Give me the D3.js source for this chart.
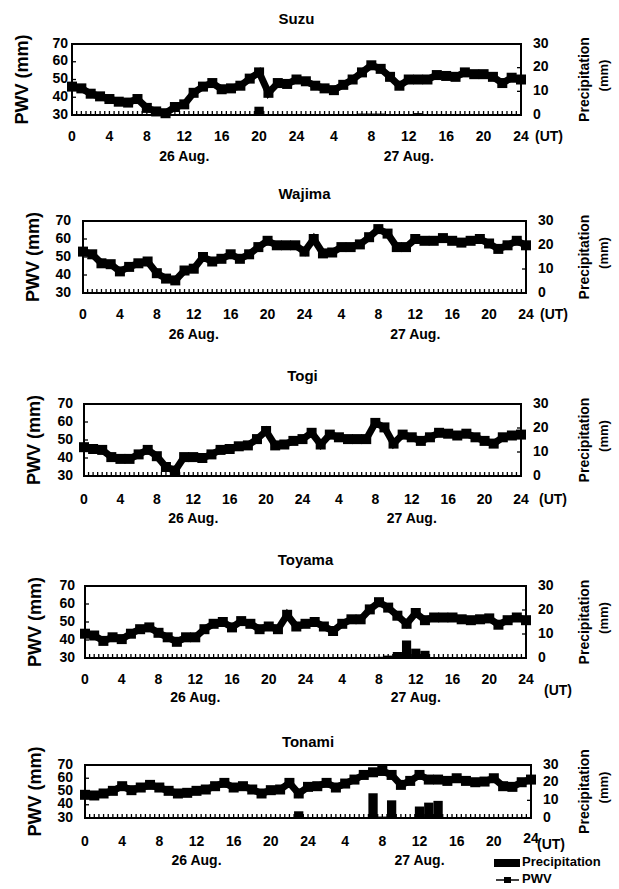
<!DOCTYPE html>
<meta charset="utf-8">
<head>
	<title>PWV and precipitation, 26-27 Aug.</title>
	<script type="text/javascript" src="https://d3js.org/d3.v7.min.js"></script>
	<style>
		body { margin: 0; background: #fff; }
		text {
			font-family: "Liberation Sans", Arial, sans-serif;
			font-weight: bold;
			fill: #000;
		}
		.frame { fill: none; stroke: #000; stroke-width: 2; }
		.tick { stroke: #000; stroke-width: 1.3; }
		.pwv-line { fill: none; stroke: #000; stroke-width: 7; stroke-linejoin: miter; }
		.pwv-mark { fill: #000; }
		.rain { fill: #000; }
	</style>
</head>
<body>
	<div id="chart"></div>
	<script>
		// hours from 00 UT 26 Aug. to 24 UT 27 Aug.
		var hours = [0, 1, 2, 3, 4, 5, 6, 7, 8, 9, 10, 11, 12, 13, 14, 15, 16, 17, 18, 19, 20, 21, 22, 23, 24,
			25, 26, 27, 28, 29, 30, 31, 32, 33, 34, 35, 36, 37, 38, 39, 40, 41, 42, 43, 44, 45, 46, 47, 48];
		var tickHours = [0, 4, 8, 12, 16, 20, 24, 28, 32, 36, 40, 44, 48];
		var tickLabels = ["0", "4", "8", "12", "16", "20", "24", "4", "8", "12", "16", "20", "24"];
		var pwvTicks = [30, 40, 50, 60, 70];
		var rainTicks = [0, 10, 20, 30];

		var stations = ["Suzu", "Wajima", "Togi", "Toyama", "Tonami"];

		// PWV (mm), hourly
		var suzuPwv = [46, 45, 42, 40.5, 39, 37.5, 37, 39, 34, 32, 31, 34.5, 36, 42.5, 46, 48, 44.5, 45, 46.5, 50.5, 54, 42.5, 48, 47.5, 50,
			49, 46.5, 45, 44, 47, 50, 54, 58, 56, 51.5, 46.5, 50, 50, 50, 52.5, 52, 51.5, 54, 53, 53, 51.5, 48, 51, 50];
		var wajimaPwv = [53, 51.5, 46.5, 46, 42, 44.5, 46.5, 47.5, 41, 38, 37, 42.5, 43.5, 50, 47.5, 49, 51.5, 49, 51.5, 55.5, 59, 56.5, 56.5, 56.5, 53,
			60, 52, 52.5, 55.5, 55.5, 57, 61, 65.5, 63, 55.5, 55.5, 60, 59, 59, 60.5, 59, 58, 59, 60, 57.5, 54.5, 56.5, 59, 56.5];
		var togiPwv = [46, 45, 44.5, 40.5, 39.5, 39.5, 42, 44.5, 41, 35, 33, 40.5, 40.5, 40, 42, 44.5, 45, 46.5, 47, 50.5, 55, 47, 47.5, 49.5, 50.5,
			54, 47.5, 53, 51.5, 50.5, 50.5, 50.5, 59.5, 57, 48, 53, 51.5, 49.5, 51.5, 54, 53.5, 52.5, 53.5, 51.5, 49.5, 48, 51.5, 52.5, 53];
		var toyamaPwv = [43.5, 42.5, 39.5, 41.5, 40.5, 43.5, 46, 47, 44, 41.5, 39, 41.5, 41.5, 46, 49, 50, 47, 50.5, 49, 46, 47.5, 46, 54, 47.5, 49,
			50, 47.5, 45, 49, 51.5, 51.5, 57, 61, 58, 53.5, 49, 55, 51, 52.5, 52.5, 52.5, 51.5, 51, 51.5, 52, 48.5, 51, 52.5, 51];
		var tonamiPwv = [47.5, 47, 48.5, 50.5, 54, 51, 53, 55, 53, 50.5, 48.5, 49, 50.5, 51.5, 54, 56.5, 53, 54, 51.5, 48.5, 51, 51.5, 56.5, 48.5, 53.5,
			54, 56.5, 53, 56, 59, 62.5, 64.5, 65.5, 62.5, 55, 58, 62.5, 59, 59, 58, 60, 58, 57, 57.5, 60, 54, 53.5, 57, 59];

		// precipitation (mm), only the hours with rain
		var suzuRainHours = [20, 31, 32, 33, 37];
		var suzuRain = [3.5, 0.6, 0.6, 0.6, 0.8];
		var wajimaRainHours = [];
		var wajimaRain = [];
		var togiRainHours = [];
		var togiRain = [];
		var toyamaRainHours = [32, 33, 34, 35, 36, 37];
		var toyamaRain = [0.5, 1, 2.5, 7.3, 3.9, 3];
		var tonamiRainHours = [23, 31, 32, 33, 36, 37, 38];
		var tonamiRain = [3.8, 14, 0.8, 10, 6.5, 8.7, 9.7];

		var pwvSeries = [suzuPwv, wajimaPwv, togiPwv, toyamaPwv, tonamiPwv];
		var rainHourSeries = [suzuRainHours, wajimaRainHours, togiRainHours, toyamaRainHours, tonamiRainHours];
		var rainSeries = [suzuRain, wajimaRain, togiRain, toyamaRain, tonamiRain];

		// panel boxes (left, right, top, bottom) and label offsets
		var layout = [
			{ l: 72, r: 521, t: 44, b: 115, titleY: 20, tickY: 137, dateY: 157, gap: 4, utDx: 14, utDy: 0 },
			{ l: 83, r: 526, t: 221, b: 293, titleY: 195, tickY: 315, dateY: 335, gap: 12, utDx: 14, utDy: 0 },
			{ l: 84, r: 521, t: 404, b: 476, titleY: 377, tickY: 500, dateY: 519, gap: 11, utDx: 18, utDy: 0 },
			{ l: 85, r: 526, t: 586, b: 658, titleY: 561, tickY: 680, dateY: 698, gap: 10, utDx: 18, utDy: 11 },
			{ l: 85, r: 531, t: 765, b: 818, titleY: 743, tickY: 842, dateY: 861, gap: 12, utDx: 6, utDy: 3 }
		];

		var width = 619;
		var height = 889;
		var svg = d3.select("#chart").append("svg")
			.attr("width", width)
			.attr("height", height)
			.style("background-color", "#fff");

		stations.forEach(function (name, i) {
			var p = layout[i];
			var g = svg.append("g");
			var x = d3.scaleLinear().domain([0, 48]).range([p.l, p.r]);
			var yL = d3.scaleLinear().domain([30, 70]).range([p.b, p.t]);
			var yR = d3.scaleLinear().domain([0, 30]).range([p.b, p.t]);

			// precipitation bars
			var rain = rainHourSeries[i].map(function (h, k) { return { h: h, v: rainSeries[i][k] }; });
			g.selectAll("rect.rain")
				.data(rain)
				.enter().append("rect")
				.attr("class", "rain")
				.attr("x", function (d) { return x(d.h - 0.5); })
				.attr("width", function (d) { return x(d.h + 0.5) - x(d.h - 0.5); })
				.attr("y", function (d) { return yR(d.v); })
				.attr("height", function (d) { return yR(0) - yR(d.v); });

			// half-hour ticks along the bottom, pointing in
			var halfHours = d3.range(1, 96).map(function (k) { return k / 2; });
			g.selectAll("line.bt")
				.data(halfHours)
				.enter().append("line")
				.attr("class", "tick")
				.attr("x1", function (d) { return x(d); })
				.attr("x2", function (d) { return x(d); })
				.attr("y1", p.b)
				.attr("y2", p.b - 4);

			// inner ticks on the two value axes
			g.selectAll("line.lt")
				.data(pwvTicks.slice(1, -1))
				.enter().append("line")
				.attr("class", "tick")
				.attr("x1", p.l).attr("x2", p.l + 4)
				.attr("y1", function (d) { return yL(d); })
				.attr("y2", function (d) { return yL(d); });
			g.selectAll("line.rt")
				.data(rainTicks.slice(1, -1))
				.enter().append("line")
				.attr("class", "tick")
				.attr("x1", p.r).attr("x2", p.r - 4)
				.attr("y1", function (d) { return yR(d); })
				.attr("y2", function (d) { return yR(d); });

			g.append("rect")
				.attr("class", "frame")
				.attr("x", p.l).attr("y", p.t)
				.attr("width", p.r - p.l).attr("height", p.b - p.t);

			// PWV line with square markers
			var pts = hours.map(function (h, k) { return [h, pwvSeries[i][k]]; });
			var line = d3.line()
				.x(function (d) { return x(d[0]); })
				.y(function (d) { return yL(d[1]); });
			g.append("path")
				.datum(pts)
				.attr("class", "pwv-line")
				.attr("d", line);
			g.selectAll("rect.pwv-mark")
				.data(pts)
				.enter().append("rect")
				.attr("class", "pwv-mark")
				.attr("x", function (d) { return x(d[0]) - 5; })
				.attr("y", function (d) { return yL(d[1]) - 5; })
				.attr("width", 10)
				.attr("height", 10);

			// labels
			g.append("text")
				.attr("x", (p.l + p.r) / 2)
				.attr("y", p.titleY)
				.attr("text-anchor", "middle")
				.attr("dominant-baseline", "middle")
				.style("font-size", "15px")
				.text(name);

			g.selectAll("text.yl")
				.data(pwvTicks)
				.enter().append("text")
				.attr("x", p.l - p.gap)
				.attr("y", function (d) { return yL(d); })
				.attr("text-anchor", "end")
				.attr("dominant-baseline", "middle")
				.style("font-size", "14px")
				.text(function (d) { return d; });

			g.selectAll("text.yr")
				.data(rainTicks)
				.enter().append("text")
				.attr("x", p.r + 12)
				.attr("y", function (d) { return yR(d); })
				.attr("dominant-baseline", "middle")
				.style("font-size", "14px")
				.text(function (d) { return d; });

			g.selectAll("text.xt")
				.data(tickHours)
				.enter().append("text")
				.attr("x", function (d) { return x(d); })
				.attr("y", function (d, k) { return (i == 4 && k == 12) ? p.tickY - 3 : p.tickY; })
				.attr("text-anchor", "middle")
				.attr("dominant-baseline", "middle")
				.style("font-size", "14px")
				.text(function (d, k) { return tickLabels[k]; });

			g.append("text")
				.attr("x", p.r + p.utDx)
				.attr("y", p.tickY + p.utDy)
				.attr("dominant-baseline", "middle")
				.style("font-size", "14px")
				.text("(UT)");

			g.append("text")
				.attr("x", x(12))
				.attr("y", p.dateY)
				.attr("text-anchor", "middle")
				.attr("dominant-baseline", "middle")
				.style("font-size", "14px")
				.text("26  Aug.");
			g.append("text")
				.attr("x", x(36))
				.attr("y", p.dateY)
				.attr("text-anchor", "middle")
				.attr("dominant-baseline", "middle")
				.style("font-size", "14px")
				.text("27  Aug.");

			g.append("text")
				.attr("transform", "translate(" + (p.l - 49) + "," + ((p.t + p.b) / 2) + ") rotate(-90)")
				.attr("text-anchor", "middle")
				.attr("dominant-baseline", "middle")
				.style("font-size", "18px")
				.text("PWV (mm)");

			g.append("text")
				.attr("transform", "translate(585," + ((p.t + p.b) / 2) + ") rotate(-90)")
				.attr("text-anchor", "middle")
				.attr("dominant-baseline", "middle")
				.style("font-size", "14px")
				.text("Precipitation");
			g.append("text")
				.attr("transform", "translate(605," + ((p.t + p.b) / 2 - 4) + ") rotate(-90)")
				.attr("text-anchor", "middle")
				.attr("dominant-baseline", "middle")
				.style("font-size", "13px")
				.text("(mm)");
		});

		// legend
		var legend = svg.append("g");
		legend.append("rect")
			.attr("x", 494).attr("y", 859)
			.attr("width", 26).attr("height", 8)
			.attr("fill", "#000");
		legend.append("text")
			.attr("x", 522).attr("y", 863)
			.attr("dominant-baseline", "middle")
			.style("font-size", "13px")
			.text("Precipitation");
		legend.append("line")
			.attr("x1", 496).attr("x2", 519)
			.attr("y1", 880).attr("y2", 880)
			.attr("stroke", "#000").attr("stroke-width", 1.5);
		legend.append("rect")
			.attr("x", 504).attr("y", 877)
			.attr("width", 7).attr("height", 6)
			.attr("fill", "#000");
		legend.append("text")
			.attr("x", 522).attr("y", 880)
			.attr("dominant-baseline", "middle")
			.style("font-size", "13px")
			.text("PWV");
	</script>
</body>
</html>
